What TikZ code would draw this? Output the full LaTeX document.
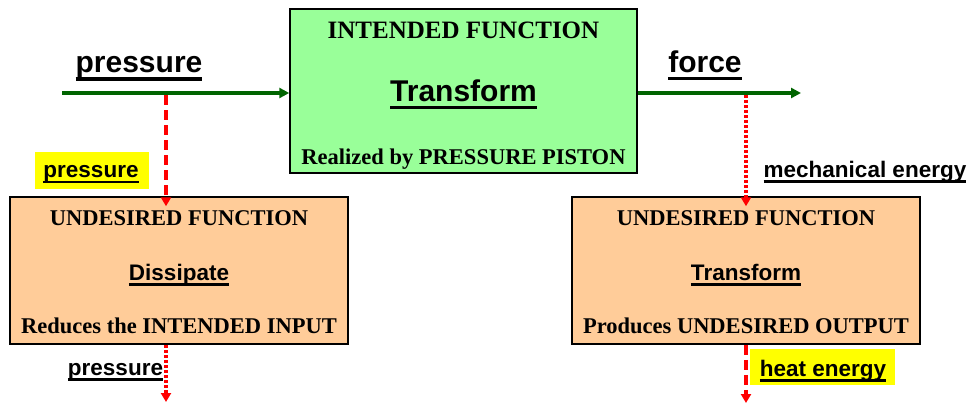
\documentclass[tikz,border=0pt]{standalone}
\usepackage{fontspec}
\setmainfont{Liberation Serif}
\newfontfamily\arialfont{Liberation Sans}
\usetikzlibrary{arrows.meta}

\definecolor{boxgreen}{RGB}{153,255,153}
\definecolor{flowgreen}{RGB}{0,100,0}
\definecolor{boxorange}{RGB}{255,204,153}
\definecolor{hilite}{RGB}{255,255,0}

% thick underline scaled with the font
\newcommand\thickul[1]{\setbox0\hbox{#1}\rlap{\rule[-0.26em]{\wd0}{0.12em}}\box0}

\tikzset{
  funcbox/.style={draw=black, line width=1.5pt, inner sep=0pt},
  flow/.style={draw=flowgreen, line width=4pt, -{Triangle[length=10pt,width=10pt]}},
  reddash/.style={draw=red, line width=3.5pt, dash pattern=on 10pt off 5pt,
    -{Triangle[length=9pt,width=10pt]}},
  reddot/.style={draw=red, line width=3.5pt, dash pattern=on 3pt off 2pt,
    -{Triangle[length=9pt,width=10pt]}},
  bigsans/.style={font=\arialfont\bfseries\fontsize{30}{32}\selectfont, anchor=base, inner sep=0pt},
  smallsans/.style={font=\arialfont\bfseries\fontsize{22.5}{24}\selectfont, anchor=base, inner sep=0pt},
  serifA/.style={font=\bfseries\fontsize{25}{27}\selectfont, anchor=base, inner sep=0pt},
  serifB/.style={font=\bfseries\fontsize{22.5}{24}\selectfont, anchor=base, inner sep=0pt},
  hlbox/.style={fill=hilite, inner sep=0pt},
}

\begin{document}
\begin{tikzpicture}[x=1pt, y=-1pt]
\useasboundingbox (0,0) rectangle (967,404);

% function boxes
\node[funcbox, fill=boxgreen, minimum width=347pt, minimum height=164pt] (main) at (463.5,91) {};
\node[funcbox, fill=boxorange, minimum width=338pt, minimum height=147pt] (dissip) at (179,270.5) {};
\node[funcbox, fill=boxorange, minimum width=348pt, minimum height=147pt] (trans) at (746,270.5) {};

% highlight boxes
\node[hlbox, minimum width=114pt, minimum height=37pt] (hlL) at (92,170.5) {};
\node[hlbox, minimum width=145pt, minimum height=36pt] (hlR) at (822.5,367) {};

% texts of the intended function
\node[serifA] (mainT) at (463.5,39) {INTENDED FUNCTION};
\node[bigsans] (mainV) at (463.5,101.5) {\thickul{Transform}};
\node[serifB] (mainB) at (463.5,164) {Realized by PRESSURE PISTON};

% texts of the undesired functions
\node[serifB] (dissT) at (179,225) {UNDESIRED FUNCTION};
\node[smallsans] (dissV) at (179,280) {\thickul{Dissipate}};
\node[serifB] (dissB) at (179,333) {Reduces the INTENDED INPUT};

\node[serifB] (tranT) at (746,225) {UNDESIRED FUNCTION};
\node[smallsans] (tranV) at (746,280) {\thickul{Transform}};
\node[serifB] (tranB) at (746,333) {Produces UNDESIRED OUTPUT};

% flow labels
\node[bigsans] (lblIn) at (139,73) {\thickul{pressure}};
\node[bigsans] (lblOut) at (705,72.5) {\thickul{force}};
\node[smallsans] (lblLoss) at (91,177.5) {\thickul{pressure}};
\node[smallsans] (lblMech) at (865,177) {\thickul{mechanical energy}};
\node[smallsans] (lblRest) at (115.5,375) {\thickul{pressure}};
\node[smallsans] (lblHeat) at (823,376) {\thickul{heat energy}};

% connectors
\coordinate (src) at (62,93);
\coordinate (sink) at (801,93);
\coordinate (tapL) at (166,93);
\coordinate (tapR) at (746,93);
\coordinate (endL) at (166,402);
\coordinate (endR) at (746,403);

\draw[flow] (src) -- (src -| main.west);
\draw[flow] (sink -| main.east) -- (sink);

\draw[reddash, shorten >=-10pt] ([yshift=-2pt]tapL) -- (tapL |- dissip.north);
\draw[reddot, shorten >=-10pt] ([yshift=-2pt]tapR) -- (tapR |- trans.north);
\draw[reddot] (endL |- dissip.south) -- (endL);
\draw[reddash] (endR |- trans.south) -- (endR);
\end{tikzpicture}
\end{document}
